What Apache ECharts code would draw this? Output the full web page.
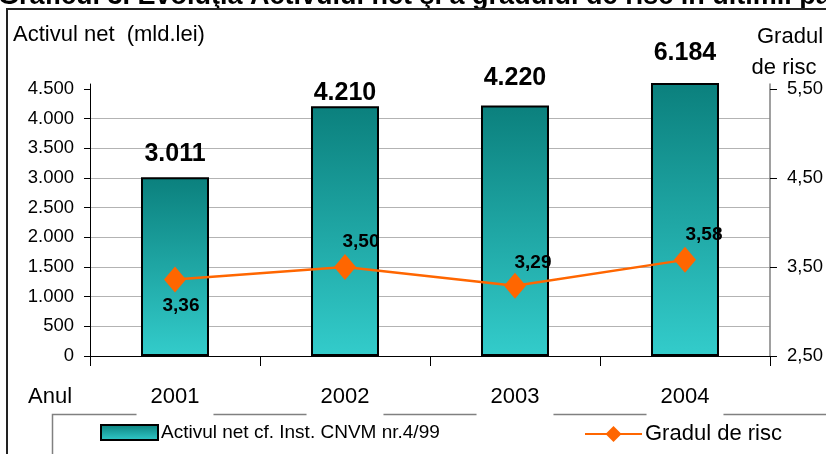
<!DOCTYPE html>
<html>
<head>
<meta charset="utf-8">
<script src="https://cdn.jsdelivr.net/npm/echarts@6/dist/echarts.min.js"></script>
<style>html,body{margin:0;padding:0;background:#fff}#c{width:826px;height:454px}</style>
</head>
<body>
<div id="c"></div>
<script>
const categories = ['2001', '2002', '2003', '2004'];
const activNet = [3011, 4210, 4220, 6184];
const gradRisc = [3.36, 3.50, 3.29, 3.58];
const leftTicks = [0, 500, 1000, 1500, 2000, 2500, 3000, 3500, 4000, 4500];
const rightTicks = [2.5, 3.5, 4.5, 5.5];
const seriesNames = ['Activul net cf. Inst. CNVM nr.4/99', 'Gradul de risc'];

// styling helpers (not data)
const barLabelGap = [11, 1, 15, 17];
const lineLabelPos = ['bottom', 'top', 'top', 'top'];
const lineLabelDx = [6, 16, 18, 19];
const lineLabelGap = [4, 3, 0, 3];

const F = "'Liberation Sans', Arial, sans-serif";
const fmtThousands = v => String(Math.round(v)).replace(/\B(?=(\d{3})+(?!\d))/g, '.');
const fmtDec = v => Number(v).toFixed(2).replace('.', ',');

const barGrad = new echarts.graphic.LinearGradient(0, 0, 0, 1, [
  { offset: 0, color: '#0b807d' },
  { offset: 1, color: '#33cccb' }
]);

const chart = echarts.init(document.getElementById('c'), null, { renderer: 'canvas' });
chart.setOption({
  animation: false,
  backgroundColor: '#fff',
  textStyle: { fontFamily: F },
  grid: { left: 90, right: 55, top: 84, bottom: 98, containLabel: false },
  xAxis: {
    type: 'category',
    data: categories,
    z: 5,
    axisLine: { lineStyle: { color: '#000', width: 1 } },
    axisTick: { show: true, length: 10, lineStyle: { color: '#000' } },
    axisLabel: {
      margin: 30, fontSize: 22, color: '#000', fontFamily: F,
      backgroundColor: '#fff', padding: [0, 14, 10, 14]
    },
    splitLine: { show: false }
  },
  yAxis: [
    {
      type: 'value', min: 0, max: 4584, interval: 500,
      axisLine: { show: true, lineStyle: { color: '#000', width: 1 } },
      axisTick: { show: true, length: 6, customValues: leftTicks, lineStyle: { color: '#000' } },
      axisLabel: { customValues: leftTicks, formatter: fmtThousands, fontSize: 18.5, margin: 16, color: '#000', fontFamily: F },
      splitLine: { show: true, showMaxLine: false, lineStyle: { color: '#b3b3b3', width: 1 } }
    },
    {
      type: 'value', min: 2.5, max: 5.556, position: 'right',
      axisLine: { show: true, lineStyle: { color: '#808080', width: 1.5 } },
      axisTick: { show: true, length: 7, customValues: rightTicks, lineStyle: { color: '#000' } },
      axisLabel: { customValues: rightTicks, formatter: fmtDec, fontSize: 18.5, margin: 17, color: '#000', fontFamily: F },
      splitLine: { show: false }
    }
  ],
  legend: [
    {
      data: [{ name: seriesNames[0], icon: 'rect' }], left: 100, top: 423, padding: 0,
      itemWidth: 57, itemHeight: 15, itemGap: 0,
      textStyle: { fontSize: 19, color: '#000', fontFamily: F, padding: [0, 0, 0, -2] }
    },
    {
      data: [seriesNames[1]], left: 584, top: 423, padding: 0,
      itemWidth: 57, itemHeight: 20, itemGap: 0,
      textStyle: { fontSize: 22, color: '#000', fontFamily: F, padding: [0, 0, 0, -2] }
    }
  ],
  series: [
    {
      name: seriesNames[0],
      type: 'bar',
      yAxisIndex: 0,
      barWidth: 68,
      itemStyle: { color: barGrad, borderColor: '#000', borderWidth: 2 },
      label: {
        show: true, position: 'top', fontSize: 25, fontWeight: 'bold', color: '#000', fontFamily: F,
        formatter: p => fmtThousands(p.value)
      },
      data: activNet.map((v, i) => ({ value: v, label: { distance: barLabelGap[i] } }))
    },
    {
      name: seriesNames[1],
      type: 'line',
      yAxisIndex: 1,
      symbol: 'diamond',
      symbolSize: [22, 26],
      z: 10,
      lineStyle: { color: '#ff6600', width: 2.5 },
      itemStyle: { color: '#ff6600' },
      label: {
        show: true, fontSize: 19, fontWeight: 'bold', color: '#000', fontFamily: F,
        formatter: p => fmtDec(p.value)
      },
      data: gradRisc.map((v, i) => ({
        value: v,
        label: { position: lineLabelPos[i], offset: [lineLabelDx[i], 0], distance: lineLabelGap[i] }
      }))
    }
  ],
  graphic: [
    {
      type: 'text', left: -2, top: -17, z: 20,
      style: { text: 'Graficul 3. Evoluţia Activului net şi a gradului de risc în ultimii patru ani', font: "bold 27px 'Liberation Sans', Arial, sans-serif", fill: '#000' }
    },
    {
      type: 'rect', z: 21,
      shape: { x: 7, y: 9, width: 840, height: 470 },
      style: { fill: 'none', stroke: '#222', lineWidth: 2 }
    },
    {
      type: 'rect', z: 1,
      shape: { x: 52.5, y: 414.5, width: 800, height: 100 },
      style: { fill: 'none', stroke: '#808080', lineWidth: 1.5 }
    },
    {
      type: 'text', x: 13, y: 35, z: 20,
      style: { text: 'Activul net  (mld.lei)', font: "22px 'Liberation Sans', Arial, sans-serif", fill: '#000', verticalAlign: 'middle' }
    },
    {
      type: 'text', x: 28, y: 397, z: 20,
      style: { text: 'Anul', font: "22px 'Liberation Sans', Arial, sans-serif", fill: '#000', verticalAlign: 'middle' }
    },
    {
      type: 'text', x: 790, y: 37, z: 20,
      style: { text: 'Gradul', font: "22px 'Liberation Sans', Arial, sans-serif", fill: '#000', align: 'center', verticalAlign: 'middle' }
    },
    {
      type: 'text', x: 784, y: 68, z: 20,
      style: { text: 'de risc', font: "22px 'Liberation Sans', Arial, sans-serif", fill: '#000', align: 'center', verticalAlign: 'middle' }
    }
  ]
});
</script>
</body>
</html>
